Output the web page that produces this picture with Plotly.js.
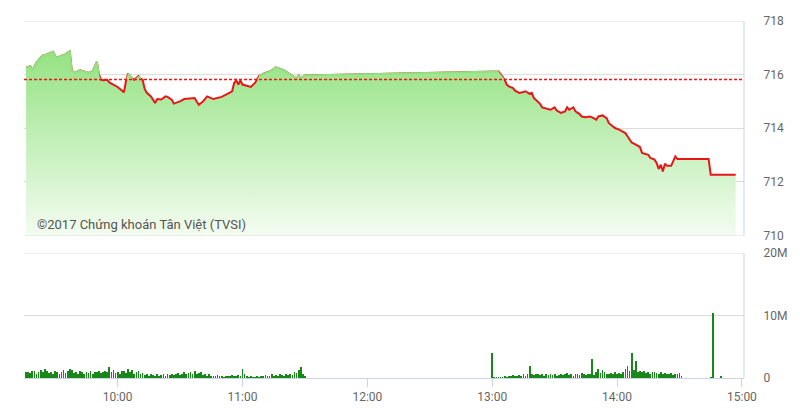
<!DOCTYPE html>
<html>
<head>
<meta charset="utf-8">
<script src="https://cdn.plot.ly/plotly-3.0.1.min.js"></script>
<style>html,body{margin:0;padding:0;background:#fff;}#chart{width:800px;height:412px;}</style>
</head>
<body>
<div id="chart"></div>
<script>
// ---------------- DATA ----------------
const tradeDate = '2017-01-01';
const refPrice = 715.82;

const priceTimes = [
 '09:16','09:18','09:19','09:21','09:23','09:24','09:26','09:28','09:29','09:30',
 '09:31','09:33','09:35','09:36','09:37','09:38','09:40','09:42','09:44','09:46',
 '09:48','09:50','09:51','09:52','09:53','09:55','09:56','09:59','10:00','10:02',
 '10:03','10:04','10:05','10:07','10:08','10:10','10:11','10:12','10:13','10:14',
 '10:16','10:18','10:19','10:21','10:23','10:24','10:26','10:27','10:30','10:32',
 '10:35','10:37','10:38','10:39','10:41','10:43','10:46','10:48','10:50','10:53',
 '10:55','10:56','10:57','10:58','10:59','11:00','11:02','11:04','11:06','11:07',
 '11:08','11:11','11:14','11:16','11:19','11:21','11:23','11:26','11:27','11:28',
 '11:30',
 '13:00','13:03','13:06','13:07','13:08','13:10','13:11','13:13','13:15','13:16',
 '13:18','13:19','13:20','13:23','13:24','13:27','13:28','13:30','13:31','13:33',
 '13:35','13:36','13:37','13:39','13:40','13:42','13:43','13:45','13:47','13:48',
 '13:50','13:51','13:53','13:55','13:56','13:58','13:59','14:01','14:03','14:04',
 '14:05','14:07','14:09','14:11','14:12','14:15','14:16','14:18','14:19','14:20',
 '14:21','14:22','14:23','14:24','14:26','14:28','14:29','14:44','14:45','14:57'
];
const priceValues = [
 716.26,716.31,716.16,716.45,716.63,716.71,716.75,716.82,716.85,716.68,
 716.63,716.71,716.75,716.82,716.86,716.12,716.09,716.16,716.12,716.06,
 716.12,716.47,716.00,715.81,715.79,715.81,715.71,715.59,715.54,715.41,
 715.34,715.75,716.04,715.85,715.81,715.94,715.85,715.81,715.47,715.32,
 715.19,714.94,715.09,715.07,715.19,715.17,715.07,714.92,715.00,715.09,
 715.13,715.13,715.00,714.88,715.00,715.19,715.09,715.13,715.17,715.29,
 715.38,715.69,715.79,715.63,715.78,715.63,715.59,715.54,715.69,715.81,
 715.96,716.06,716.15,716.27,716.19,716.10,716.00,715.85,715.97,715.85,
 715.97,
 716.12,716.12,715.81,715.63,715.56,715.50,715.40,715.32,715.35,715.38,
 715.28,715.32,715.13,714.91,714.78,714.73,714.69,714.78,714.66,714.57,
 714.63,714.78,714.69,714.78,714.63,714.53,714.44,714.41,714.44,714.41,
 714.32,714.44,714.48,714.38,714.20,714.07,714.01,713.95,713.88,713.82,
 713.70,713.47,713.39,713.30,713.08,713.01,712.89,712.83,712.71,712.48,
 712.64,712.39,712.68,712.60,712.60,712.95,712.85,712.85,712.27,712.27
];

// volume in millions of shares, one bar per minute from the session start
const volMorningStart = '09:16';
const volMorning = [
 0.9,1.0,0.8,1.1,1.2,0.7,1.0,1.3,0.9,1.5,
 1.1,0.8,1.0,0.7,1.2,0.9,0.6,1.0,1.3,0.8,
 1.2,1.4,1.3,0.8,1.0,0.7,1.1,0.9,0.7,1.0,
 0.8,1.1,0.7,1.0,0.9,1.2,0.8,1.0,1.1,0.9,
 1.7,0.9,1.3,0.8,1.0,0.7,1.1,1.2,0.8,1.4,
 1.0,1.3,0.7,0.9,1.1,0.6,0.8,0.5,0.7,0.4,
 0.6,0.5,0.4,0.7,0.3,0.5,0.6,0.4,0.6,0.5,
 0.7,0.5,0.6,0.8,0.5,0.7,0.9,0.6,0.8,1.0,
 0.7,1.1,0.6,0.8,0.9,0.5,0.7,0.4,0.6,0.3,
 0.4,0.3,0.5,0.3,0.4,0.2,0.3,0.4,0.3,0.5,
 0.3,0.4,0.5,0.3,1.4,0.6,0.3,0.2,0.3,0.2,
 0.2,0.3,0.2,0.4,0.3,0.5,0.3,0.4,0.6,0.4,
 0.5,0.4,0.6,0.5,0.4,0.6,0.5,0.7,0.5,0.9,
 0.8,1.3,1.7,0.6,0.3
];
const volAfternoonStart = '13:00';
const volAfternoon = [
 4.0,0.1,0.2,0.1,0.2,0.1,0.3,0.2,0.4,0.3,
 0.5,0.4,0.3,0.5,0.4,0.6,0.4,0.7,2.0,0.6,
 0.5,0.7,0.6,0.5,0.6,0.4,0.6,0.5,0.7,0.5,
 0.6,0.4,0.5,0.7,0.5,0.6,0.8,0.5,0.6,0.4,
 0.6,0.7,0.5,0.8,0.6,0.5,0.7,0.6,3.1,0.5,
 0.9,1.4,0.8,1.3,1.0,0.7,0.6,0.8,0.7,0.9,
 0.6,0.8,0.7,1.0,1.5,1.9,1.2,4.0,1.3,2.8,
 1.0,1.2,0.9,1.1,0.8,1.0,0.7,0.9,1.0,0.8,
 0.7,0.9,0.6,0.8,0.7,0.6,0.8,0.5,0.7,0.6,
 0.8,0.4
];
const volCloseTimes = ['14:45','14:46','14:50'];
const volClose = [0.2,10.4,0.3];

const xTickText = ['10:00','11:00','12:00','13:00','14:00','15:00'];
const priceTicks = [710,712,714,716,718];
const volTickVals = [0,10,20];
const volTickText = ['0','10M','20M'];
const watermark = '©2017 Chứng khoán Tân Việt (TVSI)';

// ---------------- BUILD ----------------
function ts(hm){ return tradeDate + ' ' + hm; }
function minuteSeries(start, n){
  const [h,m] = start.split(':').map(Number);
  const out = [];
  for (let i=0;i<n;i++){
    const tot = h*60+m+i;
    const hh = String(Math.floor(tot/60)).padStart(2,'0');
    const mm = String(tot%60).padStart(2,'0');
    out.push(ts(hh+':'+mm));
  }
  return out;
}

const px = priceTimes.map(ts);
const aboveY = priceValues.map(v => Math.max(v, refPrice));
const refY = priceValues.map(() => refPrice);
const greenEdge = priceValues.map(v => v > refPrice ? v : null);

const grad = {type:'vertical', start:710, stop:717,
  colorscale:[[0,'rgb(243,252,240)'],[1,'rgb(146,226,128)']]};

const volX = minuteSeries(volMorningStart, volMorning.length)
  .concat(minuteSeries(volAfternoonStart, volAfternoon.length))
  .concat(volCloseTimes.map(ts));
const volY = volMorning.concat(volAfternoon).concat(volClose);

const traces = [
  {x:px, y:priceValues, type:'scatter', mode:'lines', line:{width:0, color:'rgba(0,0,0,0)'},
   fill:'tozeroy', fillgradient:grad, xaxis:'x', yaxis:'y', hoverinfo:'skip'},
  {x:px, y:priceValues, type:'scatter', mode:'lines', line:{width:2, color:'rgb(232,22,22)'},
   xaxis:'x', yaxis:'y'},
  {x:px, y:refY, type:'scatter', mode:'lines', line:{width:0, color:'rgba(0,0,0,0)'},
   xaxis:'x', yaxis:'y', hoverinfo:'skip'},
  {x:px, y:aboveY, type:'scatter', mode:'lines', line:{width:0, color:'rgba(0,0,0,0)'},
   fill:'tonexty', fillgradient:grad, xaxis:'x', yaxis:'y', hoverinfo:'skip'},
  {x:px, y:greenEdge, type:'scatter', mode:'lines', line:{width:2, color:'rgb(146,224,128)'},
   connectgaps:false, xaxis:'x', yaxis:'y', hoverinfo:'skip'},
  {x:volX, y:volY, type:'bar', marker:{color:'rgb(25,135,25)', line:{width:0}},
   width:50000, xaxis:'x2', yaxis:'y2'}
];

const xRange = [ts('09:15'), ts('15:01')];
const tickVals = xTickText.map(ts);
const gridC = '#dcdcdc';
const axisC = '#c9d5e2';

const layout = {
  width:800, height:412,
  margin:{l:24, r:56, t:21, b:34},
  paper_bgcolor:'#ffffff', plot_bgcolor:'rgba(0,0,0,0)',
  showlegend:false, bargap:0,
  font:{family:'Roboto, "Open Sans", sans-serif', size:12, color:'#666'},
  xaxis:{type:'date', range:xRange, domain:[0,1], anchor:'y', showticklabels:false,
         showgrid:false, zeroline:false, showline:false, ticks:''},
  yaxis:{domain:[0.399,1], range:[710,718], side:'right', tickvals:priceTicks,
         gridcolor:gridC, gridwidth:1, zeroline:false, showline:false,
         ticks:'outside', ticklen:16, tickcolor:'rgba(0,0,0,0)',
         tickfont:{size:12, color:'#666'}},
  xaxis2:{type:'date', range:xRange, domain:[0,1], anchor:'y2', tickvals:tickVals, ticktext:xTickText,
          showgrid:false, zeroline:false, showline:true, linecolor:axisC, linewidth:1,
          ticks:'outside', ticklen:8, tickcolor:axisC, tickfont:{size:12, color:'#666'}},
  yaxis2:{domain:[0,0.35], range:[0,20], side:'right', tickvals:volTickVals, ticktext:volTickText,
          gridcolor:gridC, zeroline:false, showline:false,
          ticks:'outside', ticklen:16, tickcolor:'rgba(0,0,0,0)',
          tickfont:{size:12, color:'#666'}},
  shapes:[
    {type:'line', xref:'x domain', yref:'y', x0:0, x1:1, y0:refPrice, y1:refPrice,
     line:{color:'#f01414', width:1.5, dash:'3px,2px'}, layer:'above'},
    {type:'line', xref:'x domain', yref:'y', x0:0, x1:1, y0:710, y1:710,
     line:{color:gridC, width:1}, layer:'above'},
    {type:'line', xref:'x domain', yref:'y', x0:0, x1:1, y0:718, y1:718,
     line:{color:gridC, width:1}, layer:'above'},
    {type:'line', xref:'x domain', yref:'y domain', x0:1, x1:1, y0:0, y1:1,
     line:{color:axisC, width:1}, layer:'above'},
    {type:'line', xref:'x2 domain', yref:'y2', x0:0, x1:1, y0:20, y1:20,
     line:{color:gridC, width:1}, layer:'above'},
    {type:'line', xref:'x2 domain', yref:'y2 domain', x0:1, x1:1, y0:0, y1:1,
     line:{color:axisC, width:1}, layer:'above'}
  ],
  annotations:[
    {text:watermark, xref:'x domain', yref:'y domain', x:0.015, y:0.05, xanchor:'left', yanchor:'middle',
     showarrow:false, font:{family:'Roboto, sans-serif', size:13, color:'#555'}}
  ]
};

Plotly.newPlot('chart', traces, layout, {staticPlot:true, displayModeBar:false});
</script>
</body>
</html>
